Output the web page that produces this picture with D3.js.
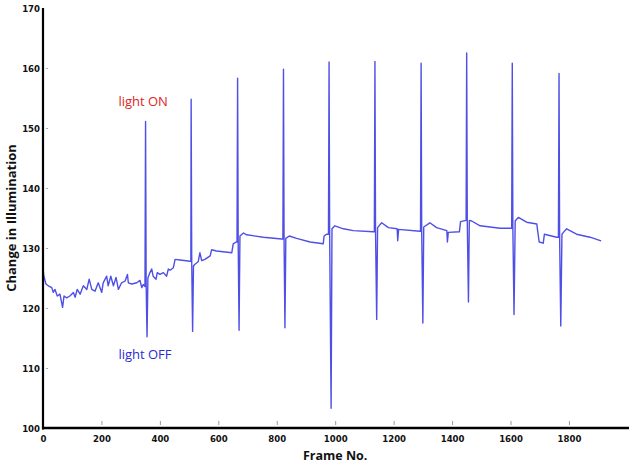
<!DOCTYPE html>
<html>
<head>
<meta charset="utf-8">
<script src="https://cdn.jsdelivr.net/npm/d3@7"></script>
<style>
  html, body { margin: 0; padding: 0; background: #fff; }
  svg { display: block; }
</style>
</head>
<body>
<svg id="chart" width="638" height="466"></svg>
<script>
// ---- data ----
const frameNo = [
  0, 3, 10, 18, 30, 35, 41, 49, 58, 67, 72, 81, 92, 104, 110, 117, 127, 138, 150, 158,
  167, 178, 189, 201, 206, 218, 223, 232, 241, 250, 258, 269, 281, 289, 292, 304, 321, 332, 338, 343,
  349, 351, 353, 356, 359, 366, 372, 377, 387, 391, 400, 412, 423, 429, 435, 446, 452, 469, 503,
  506, 507, 509, 512, 515, 520, 531, 537, 543, 554, 572, 577, 594, 646, 651, 661,
  664, 666, 668, 671, 674, 686, 697, 754, 817,
  821, 823, 825, 828, 831, 843, 868, 914, 959, 962, 971,
  977, 979, 981, 986, 989, 999, 1028, 1062, 1130,
  1134, 1136, 1138, 1142, 1145, 1159, 1182, 1212, 1214, 1217, 1290,
  1292, 1294, 1296, 1300, 1303, 1324, 1347, 1382, 1384, 1387, 1425, 1429, 1448,
  1450, 1452, 1456, 1459, 1467, 1496, 1564, 1604,
  1606, 1608, 1612, 1616, 1621, 1627, 1655, 1690, 1692, 1698, 1712, 1716, 1758,
  1764, 1766, 1768, 1772, 1776, 1781, 1792, 1826, 1872, 1910
];
const illumination = [
  126.7, 125.3, 124.0, 123.7, 123.4, 122.6, 123.1, 122.0, 122.3, 120.1, 122.0, 121.7, 122.0, 122.6, 121.8, 123.1, 122.3, 123.7, 123.1, 124.8,
  123.1, 122.8, 124.2, 122.6, 124.2, 125.3, 123.7, 125.3, 123.7, 125.1, 123.1, 124.2, 124.5, 125.6, 124.2, 124.0, 124.2, 124.6, 123.4, 123.9,
  123.6, 151.1, 124.0, 115.2, 125.0, 125.9, 126.5, 125.3, 124.8, 125.9, 125.6, 125.9, 125.3, 126.5, 126.3, 126.7, 128.1, 128.0, 127.8,
  127.8, 154.8, 127.5, 116.1, 127.0, 127.3, 127.7, 129.2, 127.9, 128.1, 128.7, 129.7, 129.5, 129.2, 130.7, 131.0,
  131.0, 158.3, 131.0, 116.3, 132.0, 132.5, 132.2, 131.8, 131.5,
  131.5, 159.8, 131.4, 116.7, 131.6, 132.0, 131.6, 131.0, 130.7, 132.0, 132.3,
  132.3, 161.0, 132.5, 103.3, 133.2, 133.7, 133.2, 132.9, 132.7,
  132.7, 161.1, 133.0, 118.1, 133.4, 134.2, 133.4, 133.2, 131.2, 133.1, 132.8,
  132.8, 160.8, 133.0, 117.5, 133.5, 134.2, 133.4, 132.9, 131.0, 132.6, 132.7, 134.4, 134.6,
  162.5, 134.6, 121.0, 134.6, 134.5, 133.7, 133.3, 133.3,
  160.8, 133.5, 118.9, 134.5, 134.8, 135.1, 134.3, 134.0, 133.2, 131.0, 130.8, 132.3, 131.8,
  131.8, 159.1, 132.0, 117.0, 132.3, 132.6, 133.2, 132.3, 131.8, 131.2
];
const xTickValues = [0, 200, 400, 600, 800, 1000, 1200, 1400, 1600, 1800];
const yTickValues = [100, 110, 120, 130, 140, 150, 160, 170];
const xTitle = "Frame No.";
const yTitle = "Change in Illumination";
const annotations = [
  { text: "light ON", frame: 258, value: 153.7, color: "#e02424" },
  { text: "light OFF", frame: 258, value: 111.5, color: "#2b2bd0" }
];

// ---- drawing ----
const svg = d3.select("#chart");
const x = d3.scaleLinear().domain([0, 2000]).range([43, 627.4]);
const y = d3.scaleLinear().domain([100, 170]).range([428, 8]);
const tickFont = "'DejaVu Sans Condensed', 'Liberation Sans Narrow', sans-serif";

const points = frameNo.map((f, i) => [f, illumination[i]]);

// line
svg.append("path")
  .datum(points)
  .attr("fill", "none")
  .attr("stroke", "#4f4fe6")
  .attr("stroke-width", 1.4)
  .attr("stroke-linejoin", "round")
  .attr("d", d3.line().x(d => x(d[0])).y(d => y(d[1])));

// x axis
const xAxis = svg.append("g")
  .attr("transform", `translate(0,${y(100)})`)
  .call(d3.axisBottom(x).tickValues(xTickValues).tickSize(0).tickPadding(7)
    .tickFormat(d3.format("d")));
xAxis.select(".domain").remove();
xAxis.selectAll("text")
  .attr("font-family", tickFont).attr("font-weight", "bold")
  .attr("font-size", 9.5).attr("fill", "#111");
xAxis.selectAll(".tick").append("line")
  .attr("y1", -3).attr("y2", -7)
  .attr("stroke", "#999").attr("stroke-width", 1);

// y axis
const yAxis = svg.append("g")
  .attr("transform", `translate(${x(0)},0)`)
  .call(d3.axisLeft(y).tickValues(yTickValues).tickSize(0).tickPadding(3)
    .tickFormat(d3.format("d")));
yAxis.select(".domain").remove();
yAxis.selectAll("text")
  .attr("font-family", tickFont).attr("font-weight", "bold")
  .attr("font-size", 9.5).attr("fill", "#111");
yAxis.selectAll(".tick").filter(d => d !== 100 && d !== 170).append("line")
  .attr("x1", 3).attr("x2", 5)
  .attr("stroke", "#aaa").attr("stroke-width", 1);

// axis lines (thick black)
svg.append("line")
  .attr("x1", x(0)).attr("x2", x(0))
  .attr("y1", y(170)).attr("y2", y(100) + 1.5)
  .attr("stroke", "#000").attr("stroke-width", 2.2);
svg.append("line")
  .attr("x1", x(0) - 1).attr("x2", 629)
  .attr("y1", y(100)).attr("y2", y(100))
  .attr("stroke", "#000").attr("stroke-width", 2.6);

// axis titles
svg.append("text")
  .attr("x", x(1000)).attr("y", 460)
  .attr("text-anchor", "middle")
  .attr("font-family", "'Open Sans', sans-serif").attr("font-weight", "bold")
  .attr("font-size", 12.5).attr("fill", "#111")
  .text(xTitle);
svg.append("text")
  .attr("transform", `translate(16,${y(135)}) rotate(-90)`)
  .attr("text-anchor", "middle")
  .attr("font-family", "'Open Sans', sans-serif").attr("font-weight", "bold")
  .attr("font-size", 13).attr("fill", "#111")
  .text(yTitle);

// annotations
svg.selectAll("text.annot")
  .data(annotations)
  .enter().append("text")
  .attr("class", "annot")
  .attr("x", d => x(d.frame)).attr("y", d => y(d.value))
  .attr("font-family", "'Open Sans', sans-serif")
  .attr("font-size", 13)
  .attr("fill", d => d.color)
  .text(d => d.text);
</script>
</body>
</html>
